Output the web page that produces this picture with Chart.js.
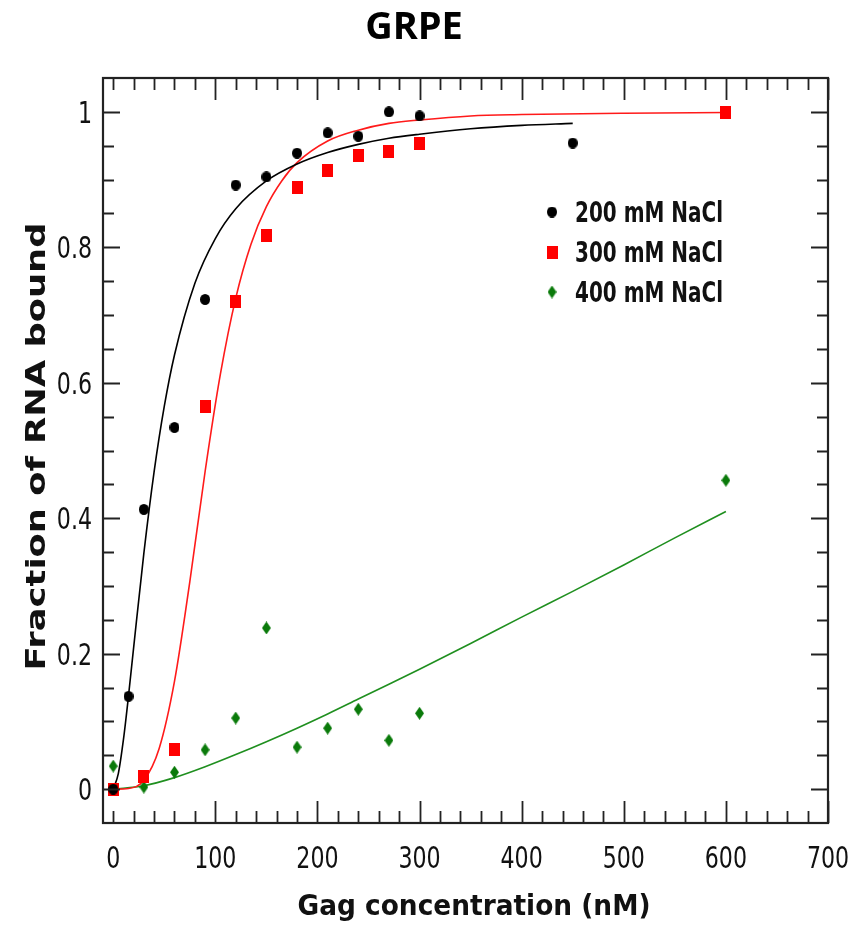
<!DOCTYPE html>
<html lang="en">
<head>
<meta charset="UTF-8">
<title>GRPE</title>
<style>
  html, body { margin: 0; padding: 0; background: #fff; }
  canvas { display: block; }
</style>
</head>
<body>
<canvas id="grpe" width="864" height="925"></canvas>
<script src="https://cdn.jsdelivr.net/npm/chart.js"></script>
<script>
// binding data, Gag concentration (nM) vs fraction of RNA bound
const conc200 = [0, 15, 30, 60, 90, 120, 150, 180, 210, 240, 270, 300, 450];
const frac200 = [0, 0.137, 0.413, 0.534, 0.723, 0.892, 0.904, 0.939, 0.969, 0.964, 1.0, 0.994, 0.954];

const conc300 = [0, 30, 60, 90, 120, 150, 180, 210, 240, 270, 300, 600];
const frac300 = [0, 0.018, 0.058, 0.565, 0.72, 0.817, 0.888, 0.913, 0.935, 0.941, 0.953, 0.999];

const conc400 = [0, 30, 60, 90, 120, 150, 180, 210, 240, 270, 300, 600];
const frac400 = [0.034, 0.003, 0.025, 0.058, 0.105, 0.238, 0.062, 0.09, 0.118, 0.072, 0.112, 0.456];

// fitted curves
const fitConc200 = [0, 5, 10, 15, 20, 30, 40, 50, 60, 80, 100, 120, 150, 180, 210, 240, 270, 300, 350, 400, 450];
const fitFrac200 = [0, 0.023, 0.073, 0.138, 0.209, 0.348, 0.468, 0.565, 0.641, 0.747, 0.813, 0.857, 0.898, 0.923, 0.940, 0.952, 0.961, 0.967, 0.975, 0.980, 0.983];

const fitConc300 = [0, 15, 30, 45, 60, 75, 90, 105, 120, 135, 150, 165, 180, 210, 240, 270, 300, 350, 400, 500, 600];
const fitFrac300 = [0, 0.001, 0.013, 0.060, 0.159, 0.306, 0.469, 0.613, 0.725, 0.805, 0.860, 0.898, 0.925, 0.957, 0.973, 0.983, 0.988, 0.994, 0.996, 0.998, 0.999];

const fitConc400 = [0, 30, 60, 90, 120, 150, 180, 210, 240, 270, 300, 350, 400, 450, 500, 550, 600];
const fitFrac400 = [0, 0.005, 0.017, 0.033, 0.051, 0.070, 0.090, 0.111, 0.133, 0.155, 0.177, 0.215, 0.254, 0.292, 0.331, 0.371, 0.410];

const xTicks = [0, 100, 200, 300, 400, 500, 600, 700];
const yTicks = [0, 0.2, 0.4, 0.6, 0.8, 1];

const seriesLabels = ['200 mM NaCl', '300 mM NaCl', '400 mM NaCl'];

const cond = '"DejaVu Sans Condensed", "DejaVu Sans", sans-serif';

function marker(w, h, color, shape) {
  const c = document.createElement('canvas');
  c.width = w;
  c.height = h;
  const g = c.getContext('2d');
  g.fillStyle = color;
  g.beginPath();
  if (shape === 'circle') {
    g.ellipse(w / 2, h / 2, w / 2, h / 2, 0, 0, Math.PI * 2);
  } else if (shape === 'diamond') {
    g.moveTo(w / 2, 0);
    g.lineTo(w, h / 2);
    g.lineTo(w / 2, h);
    g.lineTo(0, h / 2);
    g.closePath();
  } else {
    g.rect(0, 0, w, h);
  }
  g.fill();
  return c;
}

const dotBlack = marker(10, 11, '#000', 'circle');
const squareRed = marker(11, 13, '#ff0000', 'rect');
const diamondGreen = marker(9, 13, '#0a7a0a', 'diamond');

const toXY = (xs, ys) => xs.map((x, i) => ({ x, y: ys[i] }));

const pointSet = (label, xs, ys, style) => ({
  label, data: toXY(xs, ys), pointStyle: style, pointRadius: 6, showLine: false
});
const fitSet = (xs, ys, color) => ({
  label: 'fit', data: toXY(xs, ys), showLine: true, borderColor: color,
  borderWidth: 1.6, pointRadius: 0, cubicInterpolationMode: 'monotone', fill: false
});

// text squeezed (or stretched) horizontally by factor sx
function squeezed(ctx, text, x, y, sx, align) {
  ctx.save();
  ctx.translate(x, y);
  ctx.scale(sx, 1);
  ctx.textAlign = align;
  ctx.fillText(text, 0, 0);
  ctx.restore();
}

// box frame with inward ticks on all four sides, plus tick labels
const frame = {
  id: 'frame',
  afterDraw(chart) {
    const { ctx, chartArea: a, scales: { x, y } } = chart;
    ctx.save();
    ctx.strokeStyle = '#222';
    ctx.lineWidth = 1.8;
    ctx.beginPath();
    for (let v = 0; v <= 700; v += 20) {
      const px = Math.round(x.getPixelForValue(v)) + 0.5;
      const len = (v % 100 === 0 && v > 0) ? 22 : 12;
      ctx.moveTo(px, a.bottom); ctx.lineTo(px, a.bottom - len);
      ctx.moveTo(px, a.top); ctx.lineTo(px, a.top + len);
    }
    for (let k = 0; k <= 20; k++) {
      const py = Math.round(y.getPixelForValue(k * 0.05)) + 0.5;
      const len = k % 4 === 0 ? 17 : 11;
      ctx.moveTo(a.left, py); ctx.lineTo(a.left + len, py);
      ctx.moveTo(a.right, py); ctx.lineTo(a.right - len, py);
    }
    ctx.stroke();
    ctx.lineWidth = 2.2;
    ctx.strokeRect(a.left, a.top, a.right - a.left, a.bottom - a.top);

    ctx.fillStyle = '#111';
    ctx.font = '30px ' + cond;
    ctx.textBaseline = 'alphabetic';
    x.ticks.forEach(t => {
      squeezed(ctx, String(t.value), x.getPixelForValue(t.value), a.bottom + 45, 0.82, 'center');
    });
    y.ticks.forEach(t => {
      squeezed(ctx, String(t.value), a.left - 11, y.getPixelForValue(t.value) + 11, 0.82, 'right');
    });
    ctx.restore();
  }
};

// legend inside the plot, upper right
const insideLegend = {
  id: 'insideLegend',
  afterDraw(chart) {
    const { ctx, chartArea: a } = chart;
    ctx.save();
    ctx.font = 'bold 29px ' + cond;
    ctx.fillStyle = '#111';
    ctx.textBaseline = 'alphabetic';
    chart.data.datasets.filter(d => !d.showLine).forEach((d, i) => {
      const cy = a.top + 134 + i * 40;
      const img = d.pointStyle;
      ctx.drawImage(img, a.left + 449 - img.width / 2, cy - img.height / 2);
      const w = ctx.measureText(d.label).width;
      squeezed(ctx, d.label, a.left + 472, cy + 10, 148 / w, 'left');
    });
    ctx.restore();
  }
};

// axis titles, fitted to their lengths
const axisTitles = {
  id: 'axisTitles',
  afterDraw(chart) {
    const { ctx, chartArea: a } = chart;
    ctx.save();
    ctx.fillStyle = '#111';
    ctx.textAlign = 'center';
    ctx.textBaseline = 'alphabetic';

    ctx.font = 'bold 27px "DejaVu Sans", sans-serif';
    const yt = 'Fraction of RNA bound';
    let w = ctx.measureText(yt).width;
    ctx.save();
    ctx.translate(45, (a.top + a.bottom) / 2 - 4);
    ctx.rotate(-Math.PI / 2);
    ctx.scale(448 / w, 1);
    ctx.fillText(yt, 0, 0);
    ctx.restore();

    ctx.font = 'bold 29px ' + cond;
    const xt = 'Gag concentration (nM)';
    w = ctx.measureText(xt).width;
    squeezed(ctx, xt, 474, 915, 353 / w, 'center');

    ctx.restore();
  }
};

new Chart(document.getElementById('grpe'), {
  type: 'scatter',
  data: {
    datasets: [
      pointSet(seriesLabels[0], conc200, frac200, dotBlack),
      pointSet(seriesLabels[1], conc300, frac300, squareRed),
      pointSet(seriesLabels[2], conc400, frac400, diamondGreen),
      fitSet(fitConc200, fitFrac200, '#000'),
      fitSet(fitConc300, fitFrac300, '#ff1a1a'),
      fitSet(fitConc400, fitFrac400, '#1f8f1f')
    ]
  },
  options: {
    responsive: false,
    animation: false,
    layout: { padding: { left: 0, right: 36, top: 0, bottom: 0 } },
    plugins: {
      legend: { display: false },
      tooltip: { enabled: false },
      title: {
        display: true,
        text: 'GRPE',
        color: '#000',
        font: { family: '"Open Sans", sans-serif', size: 38, weight: 'bold', lineHeight: 1.2 },
        padding: { top: 5, bottom: 27.4 }
      }
    },
    scales: {
      x: {
        type: 'linear',
        min: -10,
        max: 700,
        grid: { display: false, drawTicks: false },
        border: { display: false },
        afterFit(s) { s.height = 102; },
        afterBuildTicks(s) { s.ticks = xTicks.map(v => ({ value: v })); },
        ticks: { display: false }
      },
      y: {
        type: 'linear',
        min: -0.05,
        max: 1.05,
        grid: { display: false, drawTicks: false },
        border: { display: false },
        afterFit(s) { s.width = 103; },
        afterBuildTicks(s) { s.ticks = yTicks.map(v => ({ value: v })); },
        ticks: { display: false }
      }
    }
  },
  plugins: [frame, insideLegend, axisTitles]
});
</script>
</body>
</html>
